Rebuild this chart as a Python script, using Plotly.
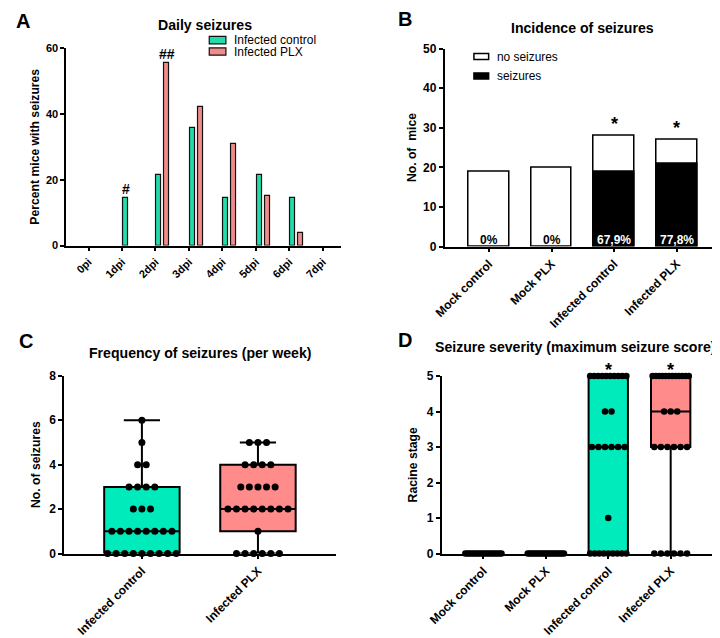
import plotly.graph_objects as go

# the page body keeps its default 8px margin: the figure starts 8px right/down
OFF = 8
W, H = 712, 630
FONT = "Liberation Sans, Arial, sans-serif"

# ---------------- data ----------------
# Panel A
days = ["0pi", "1dpi", "2dpi", "3dpi", "4dpi", "5dpi", "6dpi", "7dpi"]
daily_ctrl = [0, 14.3, 21.4, 35.7, 14.3, 21.4, 14.3, 0]
daily_plx = [0, 0, 55.5, 42.2, 30.7, 15.2, 3.9, 0]
daily_names = ["Infected control", "Infected PLX"]
daily_marks = [("#", 1, 0), ("##", 2, 1)]

# Panel B
groups = ["Mock control", "Mock PLX", "Infected control", "Infected PLX"]
total_mice = [19, 20, 28, 27]
seizure_mice = [0, 0, 19, 21]
incidence_names = ["no seizures", "seizures"]
b_star = [False, False, True, True]

# Panel C (seizures per week, per mouse)
freq_groups = ["Infected control", "Infected PLX"]
freq_ctrl = [0]*9 + [1]*8 + [2]*3 + [3]*4 + [4]*2 + [5] + [6]
freq_plx = [0]*6 + [1] + [2]*8 + [3]*5 + [4]*4 + [5]*3

# Panel D (maximum Racine stage, per mouse)
sev_mock_ctrl = [0]*19
sev_mock_plx = [0]*20
sev_inf_ctrl = [0]*9 + [1] + [3]*6 + [4]*2 + [5]*10
sev_inf_plx = [0]*6 + [3]*6 + [4]*3 + [5]*12
d_star = [False, False, True, True]

TEAL = "#00EBBB"
SALMON = "#FF8B8A"
TEAL_A = "#22DDAA"
SALMON_A = "#F28C8C"


def px_x(x):
    return (x - OFF) / W


def px_y(y):
    return 1 - (y - OFF) / H


def swarm(values, center, step, maxw):
    xs, ys = [], []
    for v in sorted(set(values)):
        k = values.count(v)
        s = step if k == 1 else min(step, maxw / (k - 1))
        for i in range(k):
            xs.append(center + (i - (k - 1) / 2) * s)
            ys.append(v)
    return xs, ys


def outline(vals, w):
    return [w if v > 0 else 0 for v in vals]


fig = go.Figure()

# ---------------- Panel A ----------------
xi = list(range(len(days)))
a_cols = [TEAL_A, SALMON_A]
for k, (vals, off) in enumerate([(daily_ctrl, 0.03), (daily_plx, 0.27)]):
    fig.add_trace(go.Bar(x=xi, y=vals, width=0.15, offset=off, name=daily_names[k],
                         marker=dict(color=a_cols[k], line=dict(color="#111", width=outline(vals, 1.2))),
                         xaxis="x", yaxis="y", showlegend=False))

# ---------------- Panel B ----------------
gi = list(range(len(groups)))
b_cols = ["white", "black"]
for k, vals in enumerate([total_mice, seizure_mice]):
    fig.add_trace(go.Bar(x=gi, y=vals, width=0.65, name=incidence_names[k],
                         marker=dict(color=b_cols[k], line=dict(color="black", width=outline(vals, 1.5))),
                         xaxis="x2", yaxis="y2", showlegend=False))

# ---------------- Panel C ----------------
for i, (vals, col) in enumerate([(freq_ctrl, TEAL), (freq_plx, SALMON)]):
    fig.add_trace(go.Box(x=[i]*len(vals), y=vals, width=0.65, boxpoints=False,
                         quartilemethod="exclusive", whiskerwidth=0.48,
                         fillcolor=col, line=dict(color="black", width=2),
                         xaxis="x3", yaxis="y3", showlegend=False, hoverinfo="skip"))
    sx, sy = swarm(vals, i, 0.074, 0.6)
    fig.add_trace(go.Scatter(x=sx, y=sy, mode="markers", marker=dict(color="black", size=7),
                             xaxis="x3", yaxis="y3", showlegend=False, cliponaxis=False))

# ---------------- Panel D ----------------
d_sets = [(sev_mock_ctrl, "white"), (sev_mock_plx, "white"), (sev_inf_ctrl, TEAL), (sev_inf_plx, SALMON)]
for i, (vals, col) in enumerate(d_sets):
    fig.add_trace(go.Box(x=[i]*len(vals), y=vals, width=0.63, boxpoints=False,
                         quartilemethod="exclusive", whiskerwidth=0.5,
                         fillcolor=col, line=dict(color="black", width=2),
                         xaxis="x4", yaxis="y4", showlegend=False, hoverinfo="skip"))
    sx, sy = swarm(vals, i, 0.105, 0.58)
    fig.add_trace(go.Scatter(x=sx, y=sy, mode="markers", marker=dict(color="black", size=6.5),
                             xaxis="x4", yaxis="y4", showlegend=False, cliponaxis=False))

# ---------------- axes ----------------
def tf(size):
    return dict(family=FONT, size=size, color="black", weight="bold")


titlefont = tf(12.2)
common = dict(showgrid=False, zeroline=False, showline=True, linecolor="black", linewidth=1.5,
              ticks="outside", ticklen=4, tickwidth=1.5, tickcolor="black")

fig.update_layout(
    xaxis=dict(domain=[px_x(53), px_x(333)], range=[-0.67, 7.53], tickvals=xi, ticktext=days,
               tickangle=-45, anchor="y", tickfont=tf(11), **common),
    yaxis=dict(domain=[px_y(245.7), px_y(42)], range=[0, 60], tickvals=[0, 20, 40, 60],
               anchor="x", tickfont=tf(11),
               title=dict(text="Percent mice with seizures", font=titlefont, standoff=4), **common),
    xaxis2=dict(domain=[px_x(439), px_x(718)], range=[-0.71, 3.66], tickvals=gi, ticktext=groups,
                tickangle=-45, anchor="y2", tickfont=tf(12), **common),
    yaxis2=dict(domain=[px_y(246.7), px_y(42.7)], range=[0, 50], tickvals=[0, 10, 20, 30, 40, 50],
                anchor="x2", tickfont=tf(12),
                title=dict(text="No. of  mice", font=titlefont, standoff=4), **common),
    xaxis3=dict(domain=[px_x(51), px_x(328)], range=[-0.67, 1.67], tickvals=[0, 1],
                ticktext=freq_groups, tickangle=-45, anchor="y3", tickfont=tf(12), **common),
    yaxis3=dict(domain=[px_y(563.3), px_y(380)], range=[0, 8], tickvals=[0, 2, 4, 6, 8],
                anchor="x3", tickfont=tf(12),
                title=dict(text="No. of seizures", font=titlefont, standoff=6), **common),
    xaxis4=dict(domain=[px_x(436), px_x(713)], range=[-0.67, 3.68], tickvals=gi, ticktext=groups,
                tickangle=-45, anchor="y4", tickfont=tf(12), **common),
    yaxis4=dict(domain=[px_y(563.3), px_y(380.3)], range=[0, 5], tickvals=[0, 1, 2, 3, 4, 5],
                anchor="x4", tickfont=tf(12),
                title=dict(text="Racine stage", font=titlefont, standoff=6), **common),
)

# ---------------- annotations & legend swatches ----------------
ann, shapes = [], []
letter_font = dict(family=FONT, size=20, color="black", weight="bold")
title_font = dict(family=FONT, size=14.1, color="black", weight="bold")
for txt, x, y in [("A", 1, 14), ("B", 391, 12), ("C", 4, 344), ("D", 391, 343)]:
    ann.append(dict(text=txt, x=px_x(x), y=px_y(y), xref="paper", yref="paper", showarrow=False,
                    xanchor="left", yanchor="middle", font=letter_font, borderpad=0))
for txt, x, y in [("Daily seizures", 195, 18), ("Incidence of seizures", 580, 21),
                  ("Frequency of seizures (per week)", 190, 357),
                  ("Seizure severity (maximum seizure score)", 572, 350)]:
    ann.append(dict(text=txt, x=px_x(x), y=px_y(y), xref="paper", yref="paper", showarrow=False,
                    xanchor="center", yanchor="middle", font=title_font, borderpad=0))

# legend A
for k, (y0, y1) in enumerate([(30, 37.7), (42, 49.3)]):
    shapes.append(dict(type="rect", xref="paper", yref="paper", x0=px_x(199), x1=px_x(216),
                       y0=px_y(y1), y1=px_y(y0), fillcolor=a_cols[k],
                       line=dict(color="#111", width=1.2)))
    ann.append(dict(text=daily_names[k], x=px_x(223), y=px_y((y0 + y1) / 2), xref="paper", yref="paper",
                    showarrow=False, xanchor="left", yanchor="middle", borderpad=0,
                    font=dict(family=FONT, size=12, color="black")))
# legend B
for k, (y0, y1) in enumerate([(47.7, 54), (67.7, 74)]):
    shapes.append(dict(type="rect", xref="paper", yref="paper", x0=px_x(469), x1=px_x(484),
                       y0=px_y(y1), y1=px_y(y0), fillcolor=b_cols[k],
                       line=dict(color="black", width=1.5)))
    ann.append(dict(text=incidence_names[k], x=px_x(492), y=px_y((y0 + y1) / 2), xref="paper",
                    yref="paper", showarrow=False, xanchor="left", yanchor="middle", borderpad=0,
                    font=dict(family=FONT, size=11.9, color="black")))

# A significance marks
a_series = [daily_ctrl, daily_plx]
a_off = [0.105, 0.345]
for txt, d, k in daily_marks:
    ann.append(dict(text=txt, x=d + a_off[k], y=a_series[k][d], xref="x", yref="y", showarrow=False,
                    yanchor="middle", yshift=9, borderpad=0,
                    font=dict(family=FONT, size=14, color="black", weight="bold")))

# B percentages and stars
for i in gi:
    pct = 100 * seizure_mice[i] / total_mice[i]
    label = "0%" if seizure_mice[i] == 0 else f"{pct:.1f}%".replace(".", ",")
    ann.append(dict(text=label, x=i, y=0, xref="x2", yref="y2", showarrow=False, yanchor="middle",
                    yshift=7, borderpad=0,
                    font=dict(family=FONT, size=12, weight="bold",
                              color="white" if seizure_mice[i] > 0 else "black")))
    if b_star[i]:
        ann.append(dict(text="*", x=i, y=total_mice[i], xref="x2", yref="y2", showarrow=False,
                        yanchor="middle", yshift=12, borderpad=0,
                        font=dict(family=FONT, size=18, color="black", weight="bold")))
for i in gi:
    if d_star[i]:
        ann.append(dict(text="*", x=i, y=5, xref="x4", yref="y4", showarrow=False,
                        yanchor="middle", yshift=6, borderpad=0,
                        font=dict(family=FONT, size=18, color="black", weight="bold")))

fig.update_layout(
    width=W, height=H, autosize=False, margin=dict(l=0, r=0, t=0, b=0),
    paper_bgcolor="white", plot_bgcolor="white", barmode="overlay", bargap=0,
    font=dict(family=FONT, color="black"), showlegend=False,
    annotations=ann, shapes=shapes,
)

fig.write_html("out.html")
